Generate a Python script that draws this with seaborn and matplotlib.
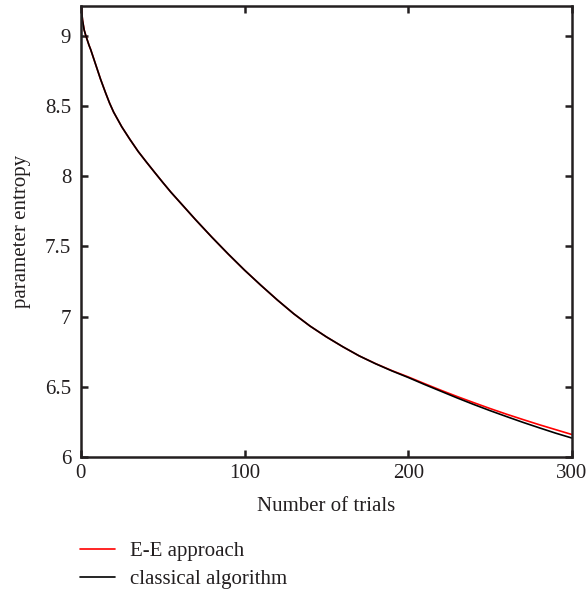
import matplotlib
matplotlib.use("Agg")
import matplotlib.pyplot as plt
import pandas as pd
import seaborn as sns

# entropy of the parameter vs number of trials
trials = [0, 0.5, 1, 2, 3, 4, 5, 6, 7, 8, 10, 12, 15, 17.5, 20, 25, 30, 35,
          40, 45, 50, 55, 60, 70, 80, 90, 100, 110, 120, 130, 140, 150, 160,
          170, 180, 190, 200, 210, 220, 230, 240, 250, 260, 270, 280, 290, 300]
ee_entropy = [9.30, 9.17, 9.11, 9.04, 9.00, 8.965, 8.93, 8.90, 8.865, 8.83,
              8.76, 8.69, 8.595, 8.52, 8.455, 8.35, 8.26, 8.175, 8.10, 8.027,
              7.955, 7.885, 7.82, 7.69, 7.565, 7.445, 7.33, 7.222, 7.118, 7.02,
              6.932, 6.855, 6.785, 6.72, 6.665, 6.615, 6.57, 6.522, 6.475, 6.43,
              6.387, 6.345, 6.305, 6.267, 6.23, 6.195, 6.16]
classical_entropy = [9.30, 9.17, 9.11, 9.04, 9.00, 8.965, 8.93, 8.90, 8.865, 8.83,
                     8.76, 8.69, 8.595, 8.52, 8.455, 8.35, 8.26, 8.175, 8.10, 8.027,
                     7.955, 7.885, 7.82, 7.69, 7.565, 7.445, 7.33, 7.222, 7.118, 7.02,
                     6.932, 6.855, 6.785, 6.72, 6.664, 6.613, 6.566, 6.516, 6.468, 6.42,
                     6.374, 6.33, 6.288, 6.247, 6.208, 6.17, 6.135]
series_names = ["E-E approach", "classical algorithm"]

df = pd.concat([
    pd.DataFrame({"trials": trials, "entropy": ee_entropy, "method": series_names[0]}),
    pd.DataFrame({"trials": trials, "entropy": classical_entropy, "method": series_names[1]}),
])

sns.set_style("ticks")
plt.rcParams["font.family"] = ["Liberation Serif", "DejaVu Serif"]

fig = plt.figure(figsize=(5.86, 5.90), dpi=100)
ax = fig.add_axes([0.138, 0.2254, 0.838, 0.7644])

sns.lineplot(data=df, x="trials", y="entropy", hue="method",
             palette={"E-E approach": "#ff0000", "classical algorithm": "#000000"},
             linewidth=1.2, ax=ax, legend=True)

ax.set_xlim(0, 300)
ax.set_ylim(6, 9.21)
ax.set_xticks([0, 100, 200, 300])
ax.set_yticks([6, 6.5, 7, 7.5, 8, 8.5, 9])
ax.set_yticklabels(["6", "6.5", "7", "7.5", "8", "8.5", "9"])
ax.tick_params(direction="in", length=5, width=1.8, labelsize=15,
               top=True, right=True, colors="#231f20", labelcolor="#231f20")
ax.tick_params(axis="x", pad=5)
ax.tick_params(axis="y", pad=7)
for sp in ax.spines.values():
    sp.set_linewidth(1.8)
    sp.set_color("#231f20")
    sp.set_visible(True)

ax.set_xlabel("Number of trials", fontsize=15, color="#231f20", labelpad=10)
ax.set_ylabel("parameter entropy", fontsize=15, color="#231f20", labelpad=10)

handles, labels = ax.get_legend_handles_labels()
ax.legend(handles, labels, loc="upper left", bbox_to_anchor=(0.104, 0.1135),
          bbox_transform=fig.transFigure, frameon=False, fontsize=15,
          handlelength=1.7, handletextpad=0.7, labelspacing=0.4,
          labelcolor="#231f20")

fig.savefig("out.png", dpi=100)
